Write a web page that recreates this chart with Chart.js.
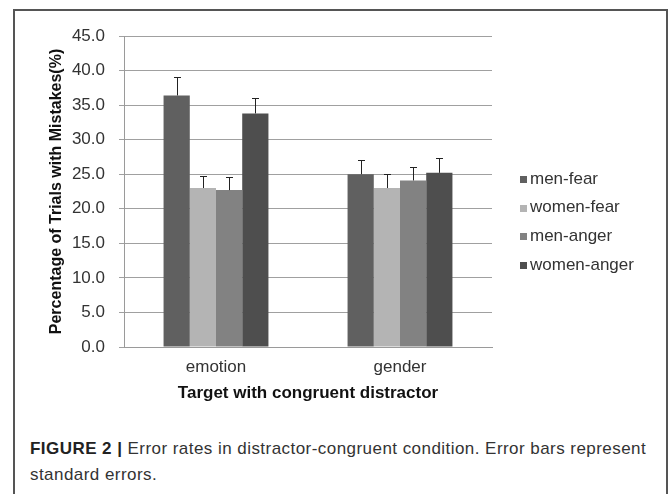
<!DOCTYPE html>
<html>
<head>
<meta charset="utf-8">
<script src="https://cdn.jsdelivr.net/npm/chart.js@4"></script>
<style>
  body { margin: 0; background: #fff; width: 672px; height: 494px; overflow: hidden; position: relative; font-family: "Liberation Sans", Arial, sans-serif; }
  #frame { position: absolute; left: 13px; top: 9px; width: 655px; height: 500px; border: 2px solid #555; border-bottom: none; box-sizing: border-box; }
  #wrap { position: absolute; left: 0; top: 0; width: 672px; height: 410px; }
  #caption { position: absolute; left: 30px; top: 436px; width: 630px; font-size: 17px; letter-spacing: 0.45px; line-height: 26px; color: #333; }
  #caption b { color: #222; }
</style>
</head>
<body>
<div id="frame"></div>
<div id="wrap"><canvas id="errChart" width="672" height="410"></canvas></div>
<div id="caption"><b>FIGURE 2 |</b> Error rates in distractor-congruent condition. Error bars represent standard errors.</div>
<script>
const categories = ['emotion', 'gender'];
const seriesNames = ['men-fear', 'women-fear', 'men-anger', 'women-anger'];
const seriesColors = ['#606060', '#b4b4b4', '#828282', '#4e4e4e'];

// mean error rates (%) per series, [emotion, gender]
const menFear = [36.4, 25.0];
const womenFear = [23.0, 23.0];
const menAnger = [22.7, 24.1];
const womenAnger = [33.8, 25.2];

// standard errors
const menFearErr = [2.6, 2.1];
const womenFearErr = [1.8, 2.0];
const menAngerErr = [1.9, 2.0];
const womenAngerErr = [2.3, 2.1];

const yTicks = [0, 5, 10, 15, 20, 25, 30, 35, 40, 45];

const values = [menFear, womenFear, menAnger, womenAnger];
const errors = [menFearErr, womenFearErr, menAngerErr, womenAngerErr];

const tickFont = { family: '"Liberation Sans", Arial, sans-serif', size: 17 };
const titleFont = { family: '"Liberation Sans", Arial, sans-serif', size: 16, weight: 'bold' };

// upper error bars with a small cap
const errorBars = {
    id: 'errorBars',
    afterDatasetsDraw(chart) {
        const ctx = chart.ctx;
        const y = chart.scales.y;
        ctx.save();
        ctx.strokeStyle = '#222';
        ctx.lineWidth = 1;
        chart.data.datasets.forEach((ds, i) => {
            chart.getDatasetMeta(i).data.forEach((bar, j) => {
                const x = Math.round(bar.x) + 0.5;
                const top = y.getPixelForValue(ds.data[j]);
                const cap = Math.round(y.getPixelForValue(ds.data[j] + ds.errors[j])) + 0.5;
                ctx.beginPath();
                ctx.moveTo(x, top);
                ctx.lineTo(x, cap);
                ctx.moveTo(x - 3.5, cap);
                ctx.lineTo(x + 3.5, cap);
                ctx.stroke();
            });
        });
        ctx.restore();
    }
};

// legend on the right, small squares
const sideLegend = {
    id: 'sideLegend',
    afterDraw(chart) {
        const ctx = chart.ctx;
        ctx.save();
        ctx.font = '17px "Liberation Sans", Arial, sans-serif';
        ctx.textBaseline = 'middle';
        chart.data.datasets.forEach((ds, i) => {
            const cy = 179 + i * 28.7;
            ctx.fillStyle = ds.backgroundColor;
            ctx.fillRect(520, Math.round(cy) - 3, 7, 7);
            ctx.fillStyle = '#333';
            ctx.fillText(ds.label, 530, cy);
        });
        ctx.restore();
    }
};

const datasets = seriesNames.map((name, i) => ({
    label: name,
    data: values[i],
    errors: errors[i],
    backgroundColor: seriesColors[i],
    borderWidth: 0,
    categoryPercentage: 0.57,
    barPercentage: 1.0
}));

new Chart(document.getElementById('errChart'), {
    type: 'bar',
    data: { labels: categories, datasets: datasets },
    plugins: [errorBars, sideLegend],
    options: {
        responsive: false,
        animation: false,
        layout: { padding: { left: 0, right: 180, top: 36, bottom: 0 } },
        plugins: {
            legend: { display: false },
            tooltip: { enabled: false }
        },
        scales: {
            x: {
                grid: { display: false, drawTicks: false },
                border: { display: true, color: '#9a9a9a', width: 1 },
                ticks: { color: '#333', font: tickFont, padding: 10 },
                title: {
                    display: true,
                    text: 'Target with congruent distractor',
                    color: '#111',
                    font: { family: titleFont.family, size: 17, weight: 'bold' },
                    padding: { top: 0, bottom: 6 }
                },
                afterFit: (scale) => { scale.height = 63; }
            },
            y: {
                min: 0,
                max: 45,
                afterBuildTicks: (scale) => { scale.ticks = yTicks.map(v => ({ value: v })); },
                grid: { color: '#a0a0a0', tickLength: 5, tickColor: '#a0a0a0' },
                border: { display: true, color: '#9a9a9a' },
                ticks: {
                    color: '#333',
                    font: tickFont,
                    padding: 14,
                    callback: (v) => Number(v).toFixed(1)
                },
                title: {
                    display: true,
                    text: 'Percentage of Trials with Mistakes(%)',
                    color: '#111',
                    font: titleFont,
                    padding: { top: 47, bottom: 0 }
                },
                afterFit: (scale) => { scale.width = 124; }
            }
        }
    }
});
</script>
</body>
</html>
